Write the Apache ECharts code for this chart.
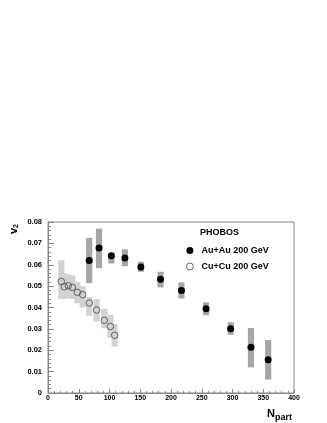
<!DOCTYPE html>
<html>
<head>
<meta charset="utf-8">
<script src="https://cdn.jsdelivr.net/npm/echarts@6/dist/echarts.min.js"></script>
<style>
  html, body { margin: 0; padding: 0; background: #fff; }
  #chart { width: 327px; height: 423px; }
</style>
</head>
<body>
<div id="chart"></div>
<script>
// Au+Au 200 GeV
const auNpart = [67, 83, 103, 125, 151, 183, 217, 257, 297, 330, 358]
const auV2 = [0.0620, 0.0678, 0.0642, 0.0631, 0.0590, 0.0532, 0.0480, 0.0394, 0.0301, 0.0214, 0.0155]
const auLow = [0.0514, 0.0584, 0.0606, 0.0593, 0.0567, 0.0494, 0.0442, 0.0364, 0.0272, 0.0120, 0.0063]
const auHigh = [0.0726, 0.0769, 0.0656, 0.0672, 0.0614, 0.0567, 0.0518, 0.0424, 0.0331, 0.0304, 0.0248]

// Cu+Cu 200 GeV
const cuNpart = [21.7, 26.5, 33, 39.6, 47.7, 56.4, 67.2, 79, 91.6, 101.4, 108.4]
const cuV2 = [0.0522, 0.0497, 0.0502, 0.0494, 0.0471, 0.0460, 0.0421, 0.0388, 0.0340, 0.0311, 0.0270]
const cuLow = [0.0440, 0.0440, 0.0445, 0.0440, 0.0420, 0.0400, 0.0361, 0.0334, 0.0303, 0.0259, 0.0217]
const cuHigh = [0.0621, 0.0560, 0.0555, 0.0550, 0.0520, 0.0500, 0.0449, 0.0440, 0.0394, 0.0366, 0.0323]

const xTicks = [0, 50, 100, 150, 200, 250, 300, 350, 400]
const yTicks = [0, 0.01, 0.02, 0.03, 0.04, 0.05, 0.06, 0.07, 0.08]

const font = 'Liberation Sans, Arial, sans-serif'
const boxWidth = 10

const chart = echarts.init(document.getElementById('chart'), null, { renderer: 'canvas' })

// 系统误差方框
function boxRender (color) {
  return function (params, api) {
    const lo = api.coord([api.value(0), api.value(1)])
    const hi = api.coord([api.value(0), api.value(2)])
    const w = api.size([boxWidth, 0])[0]
    return {
      type: 'rect',
      shape: { x: lo[0] - w / 2, y: hi[1], width: w, height: lo[1] - hi[1] },
      style: { fill: color }
    }
  }
}

const option = {
  animation: false,
  grid: {
    left: 48,
    right: 33,
    top: 222,
    bottom: 30,
    show: true,
    borderColor: '#888',
    borderWidth: 1
  },
  title: {
    text: 'PHOBOS',
    left: 200,
    top: 228,
    padding: 0,
    textStyle: { fontFamily: font, fontSize: 9, fontWeight: 'bold', color: '#000' }
  },
  legend: {
    orient: 'vertical',
    left: 186,
    top: 246,
    padding: 0,
    itemWidth: 7,
    itemHeight: 7,
    itemGap: 7,
    data: [
      { name: 'Au+Au 200 GeV', itemStyle: { color: '#000', opacity: 1 } },
      { name: 'Cu+Cu 200 GeV', itemStyle: { color: 'rgba(0,0,0,0)', borderColor: '#444', borderWidth: 0.8 } }
    ],
    textStyle: { fontFamily: font, fontSize: 9, fontWeight: 'bold', color: '#000', padding: [0, 0, 0, 3] }
  },
  xAxis: {
    type: 'value',
    min: xTicks[0],
    max: xTicks[xTicks.length - 1],
    interval: 50,
    splitLine: { show: false },
    axisLine: { onZero: false, lineStyle: { color: '#888' } },
    axisTick: { inside: true, length: 4, lineStyle: { color: '#888' } },
    minorTick: { show: true, splitNumber: 5, length: 2, lineStyle: { color: '#888' } },
    axisLabel: { margin: 2, fontFamily: font, fontSize: 7, fontWeight: 'bold', color: '#000' }
  },
  yAxis: {
    type: 'value',
    min: yTicks[0],
    max: yTicks[yTicks.length - 1],
    interval: 0.01,
    splitLine: { show: false },
    axisLine: { onZero: false, lineStyle: { color: '#888' } },
    axisTick: { inside: true, length: 6, lineStyle: { color: '#888' } },
    minorTick: { show: true, splitNumber: 5, length: 3, lineStyle: { color: '#888' } },
    axisLabel: {
      margin: 6,
      fontFamily: font,
      fontSize: 7.5,
      fontWeight: 'bold',
      color: '#000',
      formatter: v => (v === 0 ? '0' : v.toFixed(2))
    }
  },
  graphic: [
    {
      type: 'text',
      x: 7,
      y: 234,
      rotation: Math.PI / 2,
      style: {
        text: 'v{s|2}',
        fontFamily: font,
        fontSize: 11,
        fontWeight: 'bold',
        fill: '#000',
        textAlign: 'left',
        textVerticalAlign: 'top',
        rich: { s: { fontFamily: font, fontSize: 7, fontWeight: 'bold', fill: '#000', padding: [6, 0, 0, 0] } }
      }
    },
    {
      type: 'text',
      x: 267,
      y: 405,
      style: {
        text: 'N{s|part}',
        fontFamily: font,
        fontSize: 11,
        fontWeight: 'bold',
        fill: '#000',
        textAlign: 'left',
        textVerticalAlign: 'top',
        rich: { s: { fontFamily: font, fontSize: 9, fontWeight: 'bold', fill: '#000', padding: [8, 0, 0, 0] } }
      }
    }
  ],
  series: [
    {
      type: 'custom',
      renderItem: boxRender('#d2d2d2'),
      data: cuNpart.map((x, i) => [x, cuLow[i], cuHigh[i]]),
      silent: true,
      z: 1
    },
    {
      type: 'custom',
      renderItem: boxRender('#a6a6a6'),
      data: auNpart.map((x, i) => [x, auLow[i], auHigh[i]]),
      silent: true,
      z: 1
    },
    {
      name: 'Au+Au 200 GeV',
      type: 'scatter',
      symbol: 'circle',
      symbolSize: 7,
      itemStyle: { color: '#000', opacity: 1 },
      data: auNpart.map((x, i) => [x, auV2[i]]),
      z: 3
    },
    {
      name: 'Cu+Cu 200 GeV',
      type: 'scatter',
      symbol: 'circle',
      symbolSize: 6.5,
      itemStyle: { color: 'rgba(0,0,0,0)', borderColor: '#444', borderWidth: 0.8, opacity: 1 },
      data: cuNpart.map((x, i) => [x, cuV2[i]]),
      z: 3
    }
  ]
}

chart.setOption(option)
</script>
</body>
</html>
